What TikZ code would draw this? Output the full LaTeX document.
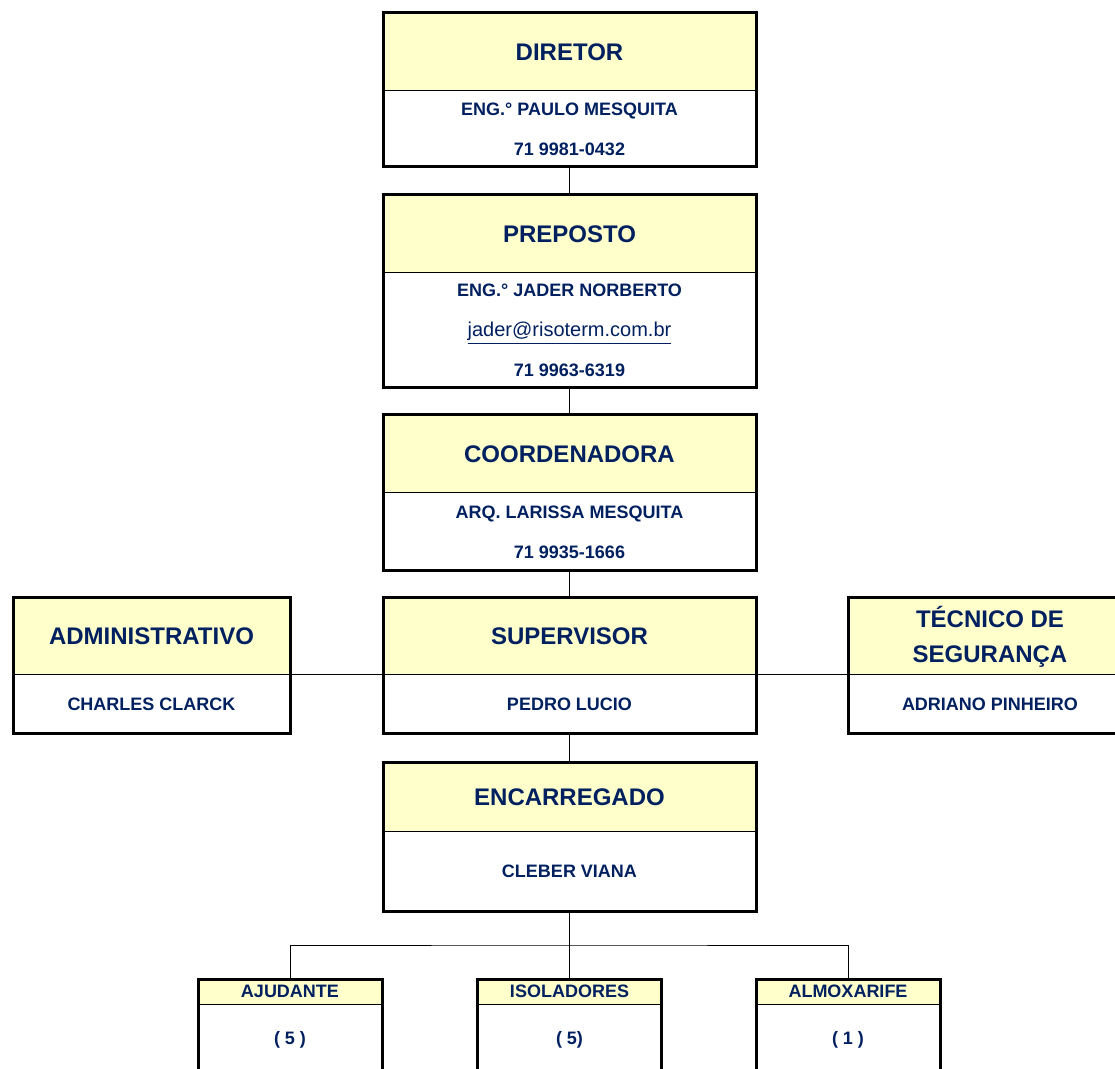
\documentclass[tikz,border=0pt]{standalone}
\usepackage{fontspec}
\setmainfont{Liberation Sans}
\definecolor{navy}{HTML}{002060}
\definecolor{hdryellow}{HTML}{FFFFCC}

\begin{document}
\begin{tikzpicture}[
    x=0.5pt, y=-0.5pt,
    title/.style={draw, line width=0.5pt, fill=hdryellow, inner sep=0pt, outer sep=0pt, anchor=north, align=center, text=navy, font=\fontsize{12}{17.5}\selectfont\bfseries},
    subtitle/.style={title, font=\fontsize{9}{11}\selectfont\bfseries},
    info/.style={draw, line width=0.5pt, fill=white, inner sep=0pt, outer sep=0pt, anchor=north, align=center, text=navy, font=\fontsize{9}{20}\selectfont\bfseries},
    frame/.style={line width=1.5pt},
    link/.style={line width=0.5pt}
]
\clip (0,0) rectangle (1115,1069);

% Main column
\node[title, minimum width=186.5pt, minimum height=39pt] (dir_t) at (569.5,13) {DIRETOR};
\node[info, minimum width=186.5pt, minimum height=38pt] (dir_i) at (dir_t.south) {ENG.° PAULO MESQUITA\\71 9981-0432};

\node[title, minimum width=186.5pt, minimum height=39pt] (prep_t) at (569.5,195) {PREPOSTO};
\node[info, minimum width=186.5pt, minimum height=57.5pt] (prep_i) at (prep_t.south) {ENG.° JADER NORBERTO\\{\fontsize{10}{20}\selectfont\mdseries\underline{jader@risoterm.com.br}}\\71 9963-6319};

\node[title, minimum width=186.5pt, minimum height=39pt] (coord_t) at (569.5,415) {COORDENADORA};
\node[info, minimum width=186.5pt, minimum height=39pt] (coord_i) at (coord_t.south) {ARQ. LARISSA MESQUITA\\71 9935-1666};

\node[title, minimum width=186.5pt, minimum height=38.5pt] (sup_t) at (569.5,598) {SUPERVISOR};
\node[info, minimum width=186.5pt, minimum height=29.5pt] (sup_i) at (sup_t.south) {PEDRO LUCIO};

\node[title, minimum width=186.5pt, minimum height=34pt] (enc_t) at (569.5,763) {ENCARREGADO};
\node[info, minimum width=186.5pt, minimum height=40pt] (enc_i) at (enc_t.south) {CLEBER VIANA};

% Side boxes next to the supervisor
\node[title, minimum width=138.5pt, minimum height=38.5pt] (adm_t) at (151.5,598) {ADMINISTRATIVO};
\node[info, minimum width=138.5pt, minimum height=29.5pt] (adm_i) at (adm_t.south) {CHARLES CLARCK};

\node[title, minimum width=142pt, minimum height=38.5pt] (seg_t) at (990,598) {TÉCNICO DE\\SEGURANÇA};
\node[info, minimum width=142pt, minimum height=29.5pt] (seg_i) at (seg_t.south) {ADRIANO PINHEIRO};

% Team boxes (cut off by the page edge)
\node[subtitle, minimum width=92pt, minimum height=12.5pt] (aju_t) at (290,979) {AJUDANTE};
\node[info, minimum width=92pt, minimum height=36pt] (aju_i) at (aju_t.south) {( 5 )};

\node[subtitle, minimum width=92pt, minimum height=12.5pt] (iso_t) at (569.5,979) {ISOLADORES};
\node[info, minimum width=92pt, minimum height=36pt] (iso_i) at (iso_t.south) {( 5)};

\node[subtitle, minimum width=92pt, minimum height=12.5pt] (alm_t) at (848,979) {ALMOXARIFE};
\node[info, minimum width=92pt, minimum height=36pt] (alm_i) at (alm_t.south) {( 1 )};

% Thick outer frames
\draw[frame] (dir_t.north west) rectangle (dir_i.south east);
\draw[frame] (prep_t.north west) rectangle (prep_i.south east);
\draw[frame] (coord_t.north west) rectangle (coord_i.south east);
\draw[frame] (sup_t.north west) rectangle (sup_i.south east);
\draw[frame] (enc_t.north west) rectangle (enc_i.south east);
\draw[frame] (adm_t.north west) rectangle (adm_i.south east);
\draw[frame] (seg_t.north west) rectangle (seg_i.south east);
\draw[frame] (aju_t.north west) rectangle (aju_i.south east);
\draw[frame] (iso_t.north west) rectangle (iso_i.south east);
\draw[frame] (alm_t.north west) rectangle (alm_i.south east);

% Connectors
\draw[link] (dir_i.south) -- (prep_t.north);
\draw[link] (prep_i.south) -- (coord_t.north);
\draw[link] (coord_i.south) -- (sup_t.north);
\draw[link] (sup_i.south) -- (enc_t.north);
\draw[link] (adm_i.north east) -- (sup_i.north west);
\draw[link] (sup_i.north east) -- (seg_i.north west);

\coordinate (bus) at (569.5,945);
\draw[link] (enc_i.south) -- (bus);
\draw[link] (aju_t.north) |- (bus) -| (alm_t.north);
\draw[link] (bus) -- (iso_t.north);

\end{tikzpicture}
\end{document}
